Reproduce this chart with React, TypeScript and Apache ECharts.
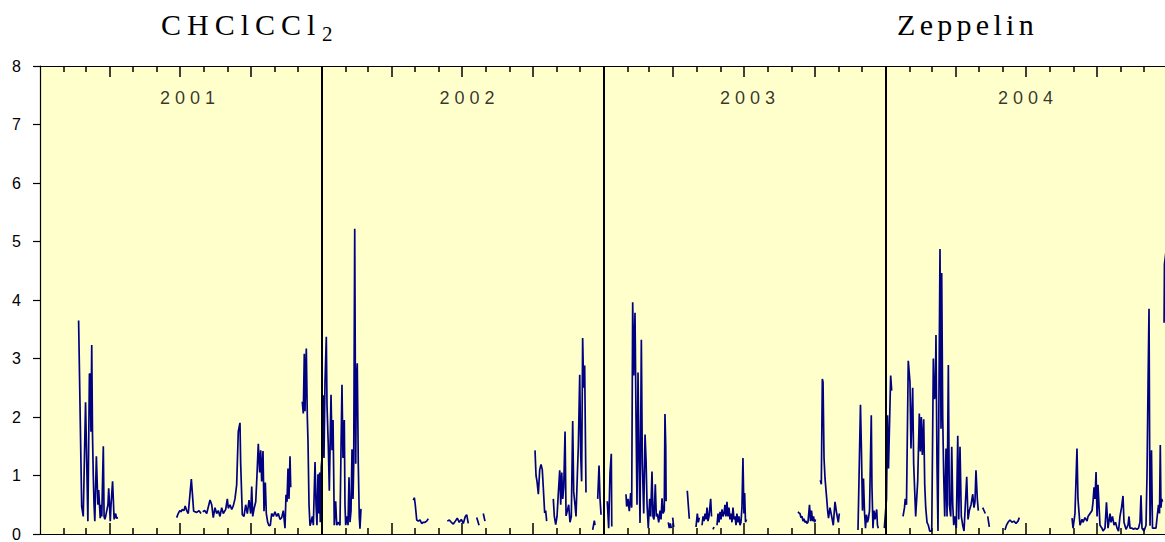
import React, { useEffect, useRef } from "react";
import * as echarts from "echarts";

// ---- labels / categories ----
const TITLE_LEFT = "CHClCCl";
const TITLE_LEFT_SUB = "2";
const TITLE_RIGHT = "Zeppelin";
const YEARS = ["2001", "2002", "2003", "2004"];
const YEAR_LABEL_DAY = [194.3, 556.3, 919.5, 1279.6];
const YEAR_LABEL_VALUE = 7.46;
const YEAR_BOUNDARY_DAY = [365, 730, 1095];
const X_MAX_DAY = 1457;
const Y_MIN = 0;
const Y_MAX = 8;
const Y_STEP = 1;

// ---- series values: [day since 2001-01-01, value] ----
const seg01a = [[50,3.65],[54,0.47],[56,0.3],[59,2.25],[62,0.22],[64,2.74],[65,2.73],[66,1.75],[67,3.23],[68,1.7],[69,1.0],[70,0.5],[71,0.22],[73,1.33],[75,0.5],[76,0.75],[78,0.27],[79,0.5],[80,0.3],[82,1.5],[83,0.3],[84,0.25],[85,0.3],[88,0.5],[89,0.78],[91,0.22],[92,0.5],[94,0.9],[96,0.25],[98,0.35],[99,0.27],[101,0.28]];
const seg01b = [[177,0.28],[179,0.35],[181,0.4],[183,0.38],[184,0.42],[186.5,0.4],[188,0.48],[190,0.4],[192,0.35],[196,0.94],[199,0.39],[203,0.37],[206,0.4],[208.5,0.35]];
const seg01c = [[210.7,0.38],[213.3,0.4],[215.9,0.35],[220.2,0.58],[222.4,0.5],[224.4,0.28],[226.6,0.45],[228.8,0.35],[230.9,0.4],[233.1,0.3],[235.3,0.45],[237.4,0.35],[240.5,0.42],[242.6,0.6],[243.9,0.44],[246.1,0.5],[248.3,0.42],[250.3,0.48],[252.5,0.6],[254.7,0.84],[256.8,1.75],[259,1.9],[259.9,1.2],[262,0.33],[264.2,0.3],[266.4,0.5],[268.5,0.35],[270.7,0.58],[272.9,0.35],[274.2,0.81],[275.5,0.3],[277.5,0.45],[279.4,0.55],[281,1.0],[282.7,1.54],[284.5,1.05],[285.8,1.43],[287.1,0.9],[288.8,1.42],[290.1,0.39],[291.8,0.88],[293.1,0.35],[294.9,0.2],[296.6,0.14],[298.3,0.15],[300,0.35],[302.1,0.3],[304.3,0.38],[306.5,0.3],[308.6,0.35],[310.8,0.25],[313,0.28],[315.1,0.4],[317.3,0.1],[318.6,0.67],[319.9,0.55],[321.2,1.12],[322.5,0.6],[323.8,1.33],[324.7,0.8]];
const seg01d = [[339.7,2.26],[341,2.06],[342.3,3.08],[343.2,2.1],[344.9,3.17],[346.2,2.0],[347.1,1.58],[348.4,0.5],[349.7,0.14],[351,0.2],[352.7,0.3],[354,0.15],[356.2,1.23],[357.5,0.5],[358.7,0.15],[360,1.02],[361,0.35],[362.2,1.05],[363,0.2],[364.3,1.15],[365.6,1.35],[366.9,2.37],[367.8,1.3],[369.1,2.6],[370.8,3.37],[371.7,2.2],[373.4,1.5],[374.7,0.74],[376.9,2.38],[378.2,1.43],[379.5,1.95],[380.4,1.0],[381.1,0.15],[382.9,0.56],[384.3,0.15],[386.3,0.2],[388.5,0.15],[389.8,1.4],[391.1,2.55],[392.4,1.3],[394.1,1.95],[395,0.5],[395.9,0.15],[397.6,0.3],[398.9,0.15],[400.2,0.97],[401.5,0.2],[402.8,0.4],[404.1,1.45],[405.4,0.6],[406.3,1.2],[407.6,5.22],[408.9,1.2],[409.6,2.5],[410.9,2.92],[412.2,1.2],[413.5,0.3],[414.4,0.09],[415.7,0.43]];
const seg02a = [[483.5,0.58],[484.8,0.62],[486,0.5],[487.9,0.24],[490,0.22],[492.1,0.24],[494.3,0.18],[496.4,0.2],[498.6,0.2],[500.8,0.22],[502.9,0.26]];
const seg02b = [[527.5,0.22],[530.1,0.24],[532.7,0.2],[535.3,0.17],[537.9,0.22],[540.4,0.27],[543,0.2],[545.6,0.25],[548.2,0.18],[550.8,0.3],[552.6,0.33],[554.7,0.18]];
const seg02c = [[565.6,0.28],[568.6,0.15]];
const seg02d = [[574.1,0.35],[576.3,0.22]];
const seg02e = [[641.1,1.43],[642.4,1.0],[643.7,0.9],[645.4,0.68],[647.2,1.1],[648.9,1.19],[650.5,1.1],[651.8,0.8],[653.6,0.36],[654.9,0.4],[656.2,0.22]];
const seg02f = [[664.8,0.6],[666.1,0.3],[667.9,0.16],[669.6,0.3],[671.3,0.7],[673.1,1.09],[674.4,0.5],[675.7,1.05],[677,0.6],[678.3,0.8],[680,1.75],[681.3,0.31],[683,0.4],[684.7,0.5],[686.4,0.2],[688.1,0.3],[689.9,1.93],[691.2,0.72],[692.9,0.5],[694.2,0.3],[695.9,1.0],[697.2,1.5],[699,2.72],[700.3,1.35],[701.5,0.9],[702.8,3.35],[704.1,2.5],[705.4,2.88],[707.1,0.71]];
const seg02g = [[715.8,0.07],[717.9,0.23],[718.8,0.15]];
const seg02h = [[722.3,0.6],[724,1.17],[725.3,0.6],[726.6,0.33]];
const seg03a = [[734.7,0.56],[736.5,0.1],[738.2,1.04],[739.9,1.37],[740.5,0.13]];
const seg03b = [[758.9,0.68],[759.8,0.47],[761.5,0.6],[763.2,0.39],[765,0.7],[766.3,0.45],[767.6,3.96],[768.9,2.71],[770.6,3.78],[771.9,2.0],[773.2,0.5],[774.5,2.76],[775.8,1.3],[777.1,0.19],[778.8,3.32],[780.1,1.2],[781.9,0.35],[783.6,1.7],[784.9,1.27],[786.2,0.5],[787.8,0.1],[789.6,0.6],[790.9,0.3],[792.6,1.07],[793.9,0.3],[795.2,0.25],[796.9,0.85],[798.2,0.3],[799.5,0.35],[801.3,0.2],[803,0.4],[804.3,0.25],[805.6,0.61],[806.9,0.35],[808.5,0.4],[809.4,2.05],[810.4,1.5],[810.9,0.56]];
const seg03c = [[813.7,0.2],[815,0.1],[816.3,0.18],[817.6,0.1]];
const seg03d = [[819.4,0.28],[820.7,0.12]];
const seg03e = [[838.3,0.74],[840.9,0.26]];
const seg03f = [[849.6,0.12],[851.3,0.35],[852.6,0.2],[853.9,0.28]];
const seg03g = [[857.4,0.15],[858.7,0.3],[860,0.22],[861.3,0.35],[862.6,0.25],[863.9,0.45],[865.1,0.22],[866.4,0.3],[868.6,0.6],[869.7,0.3]];
const seg03h = [[871.6,0.08],[872.9,0.12]];
const seg03i = [[876.8,0.15],[878.1,0.35],[879.4,0.2],[880.7,0.38],[882,0.25],[883.3,0.42],[884.6,0.3],[885.9,0.35],[887.1,0.5],[888.4,0.3],[889.7,0.55],[891,0.3],[892.3,0.45],[893.6,0.25],[894.9,0.35],[896.2,0.2],[897.5,0.45],[898.8,0.25],[900.1,0.3],[901.4,0.15],[902.6,0.35],[903.9,0.2],[905.2,0.3],[906.6,0.15],[907.8,0.2],[909.1,0.45],[910.4,1.3],[911.7,0.35],[912.6,0.7],[913.7,0.2],[915,0.25]];
const seg03j = [[981.7,0.38],[982.9,0.36],[984.2,0.35],[985.5,0.28],[986.9,0.3],[988.2,0.22],[989.4,0.26],[990.7,0.2],[992.1,0.22],[993.3,0.18],[994.6,0.2],[996.6,0.5],[997.9,0.22],[999.2,0.4],[1000.5,0.22],[1001.8,0.3],[1003.1,0.2],[1004.4,0.25]];
const seg03k = [[1010.6,0.92],[1011.9,0.85],[1013.2,2.65],[1014.1,2.6],[1015.4,1.3],[1016.7,0.95],[1018.9,0.6],[1020.1,0.4],[1021.2,0.27],[1023.1,0.45],[1025.3,0.3],[1027.4,0.15],[1029.6,0.55],[1031.8,0.35],[1033.9,0.2],[1035.2,0.35]];
const seg03l = [[1059.4,0.07],[1062.6,2.21],[1063.9,1.4],[1065.2,0.4],[1066.5,0.95],[1067.8,0.38],[1069.1,0.1],[1070.4,0.33],[1071.7,0.2],[1073,0.27],[1074.3,0.4],[1076.6,2.03],[1077.5,0.8],[1078.8,0.1],[1080.1,0.4],[1081.4,0.25],[1083.6,0.42],[1084.6,0.15],[1085.7,0.1]];
const seg03m = [[1093.5,0.1],[1094.8,0.33],[1096.3,0.6],[1097.6,2.03],[1098.9,1.12],[1101.7,2.71],[1103,2.45]];
const seg04a = [[1117.7,0.3],[1119.6,0.45],[1120.6,0.6],[1122.2,0.5],[1124.5,2.96],[1126.7,2.6],[1128,1.46],[1130.2,2.5],[1131.5,1.2],[1134.1,0.3],[1136.7,0.9],[1138.8,2.06],[1140.1,1.41],[1141.4,2.0],[1142.7,1.35],[1144.5,1.96],[1145.8,0.85],[1147.1,0.45],[1148.8,0.2],[1150.5,0.15],[1152.3,0.05],[1154.9,0.05],[1157,3.0],[1158.3,2.31],[1159.5,2.35],[1160.4,3.4],[1161.7,1.2],[1163,0.05],[1165.6,4.87],[1166.9,1.8],[1167.8,4.46],[1169.1,2.0],[1170.4,1.0],[1171.7,0.3],[1173.4,1.46],[1174.7,0.3],[1176.4,2.89],[1177.7,0.5],[1179.5,0.3],[1180.8,1.49],[1182.1,0.5],[1183.4,0.15],[1185.1,0.3],[1186.7,0.1],[1188.6,1.68],[1189.9,0.25],[1191.5,1.49],[1193.2,0.3],[1195,0.15],[1196.7,0.05],[1198.4,0.5],[1200.2,0.98],[1201.9,0.25],[1203.6,0.4],[1205.8,0.5],[1208,0.68],[1209.6,0.45],[1210.9,0.55],[1212.2,1.09],[1213.9,0.6],[1215.2,0.4]];
const seg04b = [[1220.9,0.45],[1224.3,0.35]];
const seg04c = [[1227.4,0.3],[1229.5,0.12]];
const seg04d = [[1249.7,0.07],[1251.7,0.15],[1253.7,0.2],[1256.2,0.24],[1258.8,0.2],[1261.4,0.22],[1264,0.18],[1266.6,0.22],[1268.3,0.28]];
const seg04e = [[1336.6,0.27],[1337.9,0.1],[1340.4,0.35],[1343,1.46],[1344.3,0.6],[1346.9,0.15],[1349.5,0.25],[1350.8,0.2],[1353.4,0.28],[1356,0.22],[1357.3,0.3],[1359.9,0.35],[1362.5,0.4],[1363.8,0.55],[1365.1,0.8],[1366.4,0.6],[1367.7,1.06],[1369,0.3],[1370.2,0.84],[1372.8,0.15],[1375.4,0.1],[1376.7,0.05],[1379.3,0.1],[1381.2,0.54],[1383.2,0.1],[1385.8,0.35],[1387.1,0.2],[1389,0.3],[1391,0.15],[1392.9,0.2],[1394.9,0.1],[1396.8,0.05],[1398.7,0.3],[1400.7,0.45],[1402.6,0.65],[1403.9,0.2],[1406.5,0.08],[1409.1,0.15],[1410.4,0.3],[1411.7,0.1],[1414.3,0.1],[1416.2,0.08],[1418.2,0.1],[1420.7,0.08],[1422.7,0.1],[1424.6,0.2],[1425.9,0.66],[1427.2,0.1],[1429.8,0.05],[1432.4,0.15],[1433.7,1.0],[1435,2.5],[1436.3,3.85],[1437.6,0.14],[1439.5,1.43],[1440.8,0.1],[1442.8,0.1],[1445.3,0.1],[1447.3,0.35],[1448.6,0.5],[1449.9,0.35],[1450.9,1.52],[1451.8,0.45],[1452.7,0.6],[1453.8,0.55]];
const seg04f = [[1455.8,3.61],[1456.3,4.61],[1458,4.8]];

const SEGMENTS = [seg01a, seg01b, seg01c, seg01d, seg02a, seg02b, seg02c, seg02d, seg02e, seg02f, seg02g, seg02h, seg03a, seg03b, seg03c, seg03d, seg03e, seg03f, seg03g, seg03h, seg03i, seg03j, seg03k, seg03l, seg03m, seg04a, seg04b, seg04c, seg04d, seg04e, seg04f];

// letter spacing (px) of the spaced-out texts in the reference
const LETTER_SPACING: Record<string, number> = {
  [TITLE_LEFT]: 6,
  [TITLE_RIGHT]: 4.3,
  "2001": 5,
  "2002": 5,
  "2003": 5,
  "2004": 5,
};

function buildLineData() {
  const out: any[] = [];
  SEGMENTS.forEach((seg, i) => {
    if (i > 0) {
      const prev = SEGMENTS[i - 1];
      out.push([(prev[prev.length - 1][0] + seg[0][0]) / 2, null]);
    }
    seg.forEach((p) => out.push(p));
  });
  return out;
}

function buildTicks() {
  const start = Date.UTC(2001, 0, 1);
  const month: number[] = [];
  const quarter: number[] = [];
  for (let y = 2001; y <= 2004; y++) {
    for (let m = 1; m < 12; m++) {
      const d = (Date.UTC(y, m, 1) - start) / 86400000;
      if (m % 3 === 0) quarter.push(d);
      else month.push(d);
    }
  }
  return { month, quarter };
}

export default function App() {
  const ref = useRef<HTMLDivElement>(null);
  useEffect(() => {
    if (!ref.current) return;
    const el = ref.current;
    const chart = echarts.init(el, undefined, { renderer: "svg" });
    const { month, quarter } = buildTicks();
    const tickStyle = { color: "#000", width: 1.5 };
    const xBase: any = {
      type: "value",
      min: 0,
      max: X_MAX_DAY,
      axisLabel: { show: false },
      splitLine: { show: false },
    };
    const axisLineOn = { show: true, onZero: false, lineStyle: { color: "#000", width: 1.2 } };
    const serif = '"Liberation Serif", "Times New Roman", serif';
    chart.setOption({
      animation: false,
      grid: {
        left: 40,
        right: 0,
        top: 66,
        bottom: 6,
        show: true,
        backgroundColor: "#FFFFCC",
        borderWidth: 0,
      },
      xAxis: [
        { ...xBase, position: "bottom", axisLine: axisLineOn, axisTick: { show: true, inside: true, length: 6, customValues: month, lineStyle: tickStyle } },
        { ...xBase, position: "bottom", axisLine: { show: false }, axisTick: { show: true, inside: true, length: 11, customValues: quarter, lineStyle: tickStyle } },
        { ...xBase, position: "top", axisLine: axisLineOn, axisTick: { show: true, inside: true, length: 6, customValues: month, lineStyle: tickStyle } },
        { ...xBase, position: "top", axisLine: { show: false }, axisTick: { show: true, inside: true, length: 11, customValues: quarter, lineStyle: tickStyle } },
      ],
      yAxis: {
        type: "value",
        min: Y_MIN,
        max: Y_MAX,
        interval: Y_STEP,
        axisLine: { show: true, lineStyle: { color: "#000", width: 1.2 } },
        axisTick: { show: true, length: 7, lineStyle: { color: "#000", width: 1.2 } },
        axisLabel: { color: "#000", fontSize: 16, fontFamily: "Liberation Sans, Arial", margin: 19 },
        splitLine: { show: false },
      },
      series: [
        {
          type: "line",
          xAxisIndex: 0,
          data: buildLineData(),
          showSymbol: false,
          symbol: "none",
          connectNulls: false,
          lineStyle: { color: "#000080", width: 1.7 },
          z: 3,
          markLine: {
            silent: true,
            symbol: "none",
            label: { show: false },
            lineStyle: { color: "#000", width: 2, type: "solid" },
            data: YEAR_BOUNDARY_DAY.map((d) => ({ xAxis: d })),
            z: 5,
          },
        },
        {
          type: "scatter",
          xAxisIndex: 0,
          symbolSize: 0,
          silent: true,
          data: YEARS.map((y, i) => ({ name: y, value: [YEAR_LABEL_DAY[i], YEAR_LABEL_VALUE] })),
          label: {
            show: true,
            position: "inside",
            formatter: (p: any) => p.name,
            color: "#000",
            fontSize: 18,
            fontFamily: "Liberation Sans, Arial",
          },
          z: 6,
        },
      ],
      graphic: [
        {
          type: "text",
          x: 161,
          y: 24.5,
          style: {
            text: TITLE_LEFT,
            font: "30px " + serif,
            fill: "#000",
            textAlign: "left",
            textVerticalAlign: "middle",
          },
        },
        {
          type: "text",
          x: 322,
          y: 34,
          style: {
            text: TITLE_LEFT_SUB,
            font: "21px " + serif,
            fill: "#000",
            textAlign: "left",
            textVerticalAlign: "middle",
          },
        },
        {
          type: "text",
          x: 897,
          y: 24.5,
          style: {
            text: TITLE_RIGHT,
            font: "30px " + serif,
            fill: "#000",
            textAlign: "left",
            textVerticalAlign: "middle",
          },
        },
      ],
    });

    const applySpacing = () => {
      el.querySelectorAll("text").forEach((t) => {
        const s = (t.textContent || "").trim();
        if (LETTER_SPACING[s] !== undefined) {
          t.setAttribute("letter-spacing", String(LETTER_SPACING[s]));
        }
      });
    };
    applySpacing();
    chart.on("finished", applySpacing);
    const raf = requestAnimationFrame(applySpacing);
    return () => {
      cancelAnimationFrame(raf);
      chart.dispose();
    };
  }, []);
  return (
    <div
      ref={ref}
      style={{ position: "absolute", left: 0, top: 0, width: 1165, height: 542, background: "#fff" }}
    />
  );
}
